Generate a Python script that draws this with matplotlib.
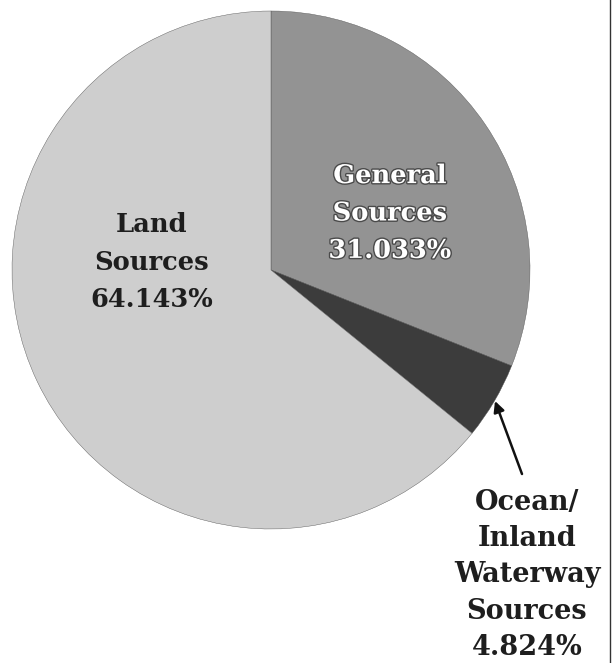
import matplotlib.pyplot as plt
import matplotlib.patheffects as pe

# shares of total, clockwise from 12 o'clock
sources = ['General\nSources', 'Ocean/\nInland\nWaterway\nSources', 'Land\nSources']
shares = [31.033, 4.824, 64.143]
colors = ['#939393', '#3c3c3c', '#cecece']

W, H = 612, 663
fig = plt.figure(figsize=(W / 100, H / 100), dpi=100)
ax = fig.add_axes([0, 0, 1, 1])

cx, cy, r = 271, 270, 259
# y axis is flipped below, so counterclock=True from -90 runs clockwise from the top
ax.pie(shares, colors=colors, startangle=-90, counterclock=True,
       center=(cx, cy), radius=r, frame=True,
       wedgeprops=dict(edgecolor='#555555', linewidth=0.3))
ax.set_xlim(0, W)
ax.set_ylim(H, 0)
ax.set_aspect('equal')
ax.axis('off')

font = dict(family='DejaVu Serif', weight='bold', fontsize=18.5,
            ha='center', va='center', linespacing=1.62)

ax.text(390, 213, '%s\n%.3f%%' % (sources[0], shares[0]), color='white',
        path_effects=[pe.withStroke(linewidth=2.0, foreground='#4a4a4a')], **font)
ax.text(152, 262, '%s\n%.3f%%' % (sources[2], shares[2]), color='#1e1e1e', **font)
ax.text(527, 575, '%s\n%.3f%%' % (sources[1], shares[1]), color='#1e1e1e',
        **dict(font, fontsize=19.5, linespacing=1.45))

# pointer to the thin ocean slice
ax.annotate('', xy=(495, 401), xytext=(522, 474),
            arrowprops=dict(arrowstyle='-|>', color='#111111', lw=1.8,
                            mutation_scale=16, shrinkA=0, shrinkB=0))

# scanned page edge
ax.plot([610, 610], [0, H], color='#333333', lw=1.0)

fig.savefig('out.png', dpi=100)
